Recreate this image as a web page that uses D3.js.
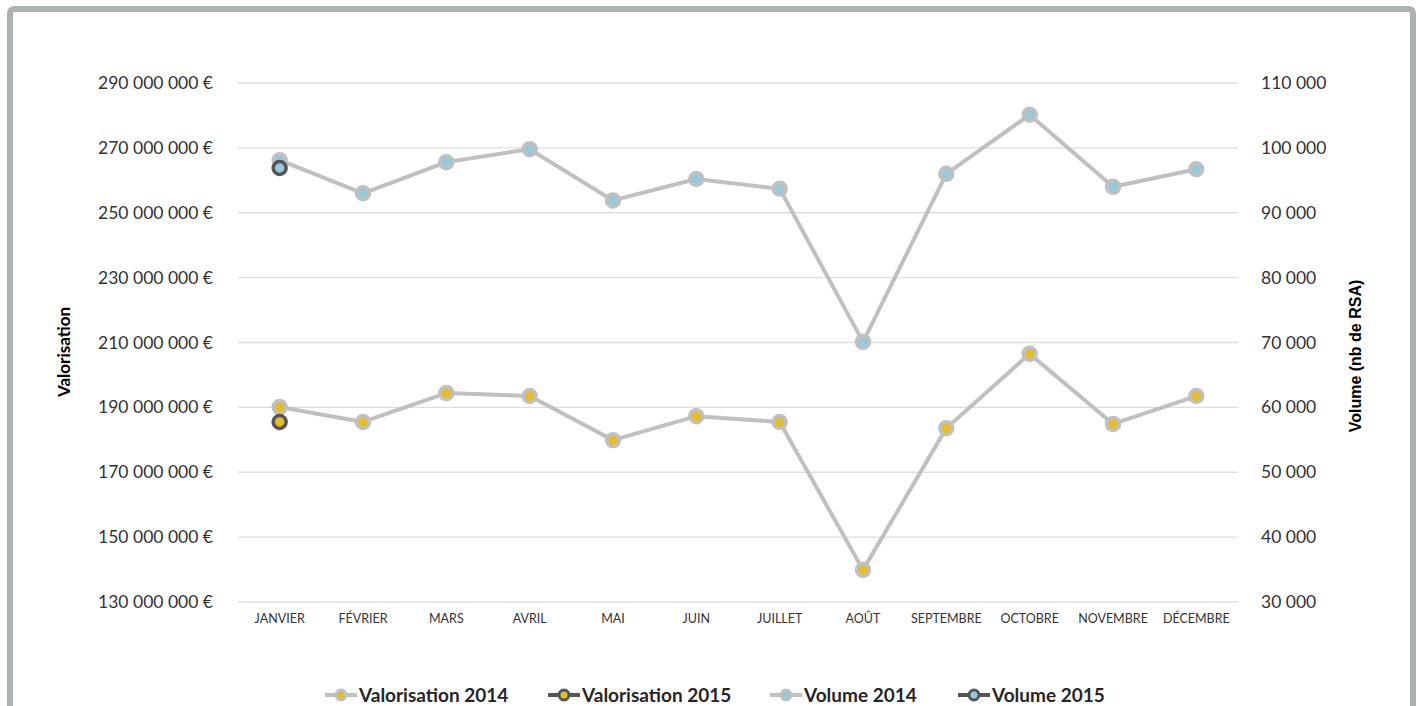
<!DOCTYPE html>
<html lang="fr">
<head>
    <meta charset="UTF-8">
    <title>Valorisation et volume RSA</title>
    <script src="https://d3js.org/d3.v7.min.js"></script>
    <style>
        body {
            margin: 0;
            background: #ffffff;
            font-family: "Lato", "DejaVu Sans", sans-serif;
        }
    </style>
</head>
<body>
<div id="chart"></div>
<script>
    // months on the x axis
    var months = ['JANVIER', 'FÉVRIER', 'MARS', 'AVRIL', 'MAI', 'JUIN', 'JUILLET',
                  'AOÛT', 'SEPTEMBRE', 'OCTOBRE', 'NOVEMBRE', 'DÉCEMBRE'];

    // valorisation in euros (left axis)
    var valo2014 = [190100000, 185500000, 194400000, 193500000, 179900000, 187300000,
                    185500000, 139900000, 183600000, 206500000, 184900000, 193500000];
    var valo2015 = [185500000];

    // volume, nb de RSA (right axis)
    var vol2014 = [98100, 93000, 97800, 99800, 91900, 95200,
                   93700, 70100, 96000, 105100, 94000, 96700];
    var vol2015 = [96900];

    var leftTicks = [130000000, 150000000, 170000000, 190000000, 210000000, 230000000, 250000000, 270000000, 290000000];
    var rightTicks = [30000, 40000, 50000, 60000, 70000, 80000, 90000, 100000, 110000];

    var legendNames = ['Valorisation 2014', 'Valorisation 2015', 'Volume 2014', 'Volume 2015'];

    var w = 1422, h = 706;
    var m = {top: 83, left: 238, bottom: 104, right: 184};
    var plotBottom = h - m.bottom; // 602

    var yellow = '#e3bd2a', blue = '#98c9db', grey = '#c0c0c0', dark = '#555555';

    var fr = d3.formatLocale({decimal: ',', thousands: ' ', grouping: [3], currency: ['', ' €']});
    var fmt = fr.format(',');

    var svg = d3.select('#chart').append('svg')
        .attr('width', w)
        .attr('height', h);

    // frame
    svg.append('rect')
        .attr('x', 10).attr('y', 9)
        .attr('width', 1403).attr('height', 730)
        .attr('rx', 4)
        .style('fill', '#ffffff')
        .style('stroke', '#adb1b0')
        .style('stroke-width', 6);

    var xScale = d3.scaleBand()
        .domain(months)
        .range([m.left, w - m.right])
        .padding(0);

    var yLeft = d3.scaleLinear()
        .domain([130000000, 290000000])
        .range([plotBottom, m.top]);

    var yRight = d3.scaleLinear()
        .domain([30000, 110000])
        .range([plotBottom, m.top]);

    function cx(i) { return xScale(months[i]) + xScale.bandwidth() / 2; }

    // gridlines
    svg.append('g').selectAll('line')
        .data(leftTicks)
        .enter().append('line')
        .attr('x1', m.left).attr('x2', w - m.right)
        .attr('y1', function(d) { return yLeft(d); })
        .attr('y2', function(d) { return yLeft(d); })
        .style('stroke', '#dedede')
        .style('stroke-width', 1.3);

    // left axis
    var leftAxis = svg.append('g')
        .attr('transform', 'translate(' + (m.left - 22) + ',0)')
        .call(d3.axisLeft(yLeft).tickValues(leftTicks).tickSize(0).tickFormat(function(d) { return fmt(d) + ' €'; }));
    leftAxis.select('.domain').remove();
    leftAxis.selectAll('text')
        .style('font-family', 'Lato, sans-serif')
        .style('font-size', '17.5px')
        .style('fill', '#333333');

    // right axis
    var rightAxis = svg.append('g')
        .attr('transform', 'translate(' + (w - m.right + 20) + ',0)')
        .call(d3.axisRight(yRight).tickValues(rightTicks).tickSize(0).tickFormat(fmt));
    rightAxis.select('.domain').remove();
    rightAxis.selectAll('text')
        .style('font-family', 'Lato, sans-serif')
        .style('font-size', '17.5px')
        .style('fill', '#333333');

    // x axis
    var xAxis = svg.append('g')
        .attr('transform', 'translate(0,' + plotBottom + ')')
        .call(d3.axisBottom(xScale).tickSize(0).tickPadding(12));
    xAxis.select('.domain').remove();
    xAxis.selectAll('text')
        .style('font-family', 'Lato, sans-serif')
        .style('font-size', '12.5px')
        .style('fill', '#333333');

    // axis titles
    svg.append('text')
        .attr('transform', 'translate(70,352) rotate(-90)')
        .attr('text-anchor', 'middle')
        .style('font-family', 'Lato, sans-serif')
        .style('font-weight', 'bold')
        .style('font-size', '17px')
        .text('Valorisation');

    svg.append('text')
        .attr('transform', 'translate(1361,356) rotate(-90)')
        .attr('text-anchor', 'middle')
        .style('font-family', '"Liberation Sans", sans-serif')
        .style('font-weight', 'bold')
        .style('font-size', '16px')
        .text('Volume (nb de RSA)');

    // series
    function drawSeries(values, scale, fill, stroke) {
        var line = d3.line()
            .x(function(d, i) { return cx(i); })
            .y(function(d) { return scale(d); });
        var g = svg.append('g');
        if (values.length > 1) {
            g.append('path')
                .datum(values)
                .attr('d', line)
                .style('fill', 'none')
                .style('stroke', stroke)
                .style('stroke-width', 4)
                .style('stroke-linejoin', 'round');
        }
        g.selectAll('circle')
            .data(values)
            .enter().append('circle')
            .attr('cx', function(d, i) { return cx(i); })
            .attr('cy', function(d) { return scale(d); })
            .attr('r', 6.5)
            .style('fill', fill)
            .style('stroke', stroke)
            .style('stroke-width', 3.5);
    }

    drawSeries(valo2014, yLeft, yellow, grey);
    drawSeries(vol2014, yRight, blue, grey);
    drawSeries(valo2015, yLeft, yellow, dark);
    drawSeries(vol2015, yRight, blue, dark);

    // legend
    var legendX = [325, 548, 770, 958];
    var legendFill = [yellow, yellow, blue, blue];
    var legendStroke = [grey, dark, grey, dark];
    var legend = svg.append('g').attr('id', 'legend');
    legendNames.forEach(function(name, i) {
        var lg = legend.append('g').attr('transform', 'translate(' + legendX[i] + ',695)');
        lg.append('line')
            .attr('x1', 0).attr('x2', 32)
            .attr('y1', 0).attr('y2', 0)
            .style('stroke', legendStroke[i])
            .style('stroke-width', 4);
        lg.append('circle')
            .attr('cx', 16).attr('cy', 0).attr('r', 5)
            .style('fill', legendFill[i])
            .style('stroke', legendStroke[i])
            .style('stroke-width', 3);
        lg.append('text')
            .attr('x', 34).attr('y', 7)
            .style('font-family', 'Lato, sans-serif')
            .style('font-weight', 'bold')
            .style('font-size', '19px')
            .style('fill', '#262626')
            .text(name);
    });
</script>
</body>
</html>
